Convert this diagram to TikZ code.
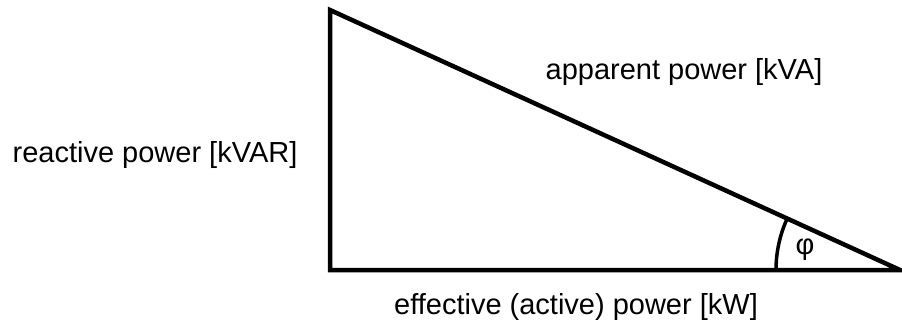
\documentclass[tikz,border=0pt]{standalone}
\usepackage{fontspec}
\setmainfont{Liberation Sans}
\begin{document}
\begin{tikzpicture}[x=1pt,y=-1pt,
        side/.style={draw,line width=4.5pt,line join=miter},
        lbl/.style={inner sep=0pt,font=\fontsize{29}{34}\selectfont}]
        \useasboundingbox (0,0) rectangle (902,332);
        \coordinate (top) at (330,10);
        \coordinate (corner) at (330,270);
        \coordinate (tip) at (900,270);
        \draw[side] (top) -- (corner) -- (tip) -- cycle;
        \draw[line width=3.5pt] (tip) ++(-124,0) arc[start angle=180,end angle=204.5,radius=124];
        \node[lbl] (reactive) at (155,155) {reactive power [kVAR]};
        \node[lbl] (apparent) at (684,72) {apparent power [kVA]};
        \node[lbl] (effective) at (576,307) {effective (active) power [kW]};
        \node[lbl] (phi) at (805,250) {φ};
    \end{tikzpicture}
\end{document}
